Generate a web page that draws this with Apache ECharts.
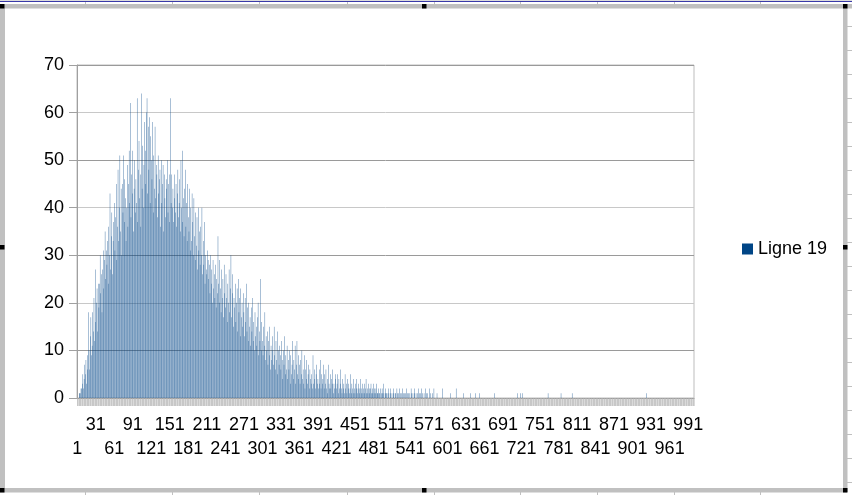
<!DOCTYPE html>
<html><head><meta charset="utf-8">
<style>html,body{margin:0;padding:0;background:#fff}#c{width:852px;height:495px}</style>
<script src="https://cdn.jsdelivr.net/npm/echarts@6/dist/echarts.min.js"></script>
</head><body><div id="c"></div>
<script>
const seriesName = 'Ligne 19';
const yTicks = [0,10,20,30,40,50,60,70];
// Values for categories 1..580
const valuesHead = [
0,0,0,1,1,1,2,2,3,5,
2,4,7,5,8,3,9,6,18,10,
6,13,17,9,11,18,14,21,12,27,
16,20,23,14,24,19,24,30,22,26,
18,27,31,23,29,35,25,31,28,33,
24,36,30,43,27,34,39,26,33,37,
41,31,38,45,29,36,48,33,40,51,
35,44,30,45,39,51,37,46,42,33,
40,49,36,45,52,41,62,38,47,43,
52,35,44,50,39,46,41,63,37,48,
54,42,47,36,64,44,53,40,49,58,
45,52,60,63,43,57,48,59,41,55,
50,46,58,39,51,44,57,42,49,47,
38,51,43,46,48,36,50,41,45,49,
35,47,42,38,46,44,50,39,45,37,
47,63,41,47,40,44,37,47,42,39,
45,36,43,48,38,41,46,35,50,40,
37,52,42,34,44,48,36,41,33,45,
38,35,44,31,40,33,43,37,30,42,
34,29,39,32,38,27,40,31,35,28,
36,30,40,26,33,28,37,24,30,27,
26,31,29,25,28,22,30,24,27,20,
29,23,26,21,28,19,25,22,34,24,
20,29,23,18,27,21,25,17,28,22,
19,26,21,16,24,20,27,18,23,30,
17,22,26,15,21,19,24,16,20,23,
14,25,18,21,13,23,17,20,15,22,
18,13,21,16,24,14,19,12,20,15,
17,11,19,14,21,12,16,10,18,13,
15,11,17,20,9,14,12,25,10,16,
12,9,15,11,18,8,13,10,14,7,
12,9,15,6,11,8,13,10,7,15,
9,6,12,8,14,5,10,7,11,9,
6,12,8,4,10,7,13,5,9,6,
11,4,8,6,10,3,9,5,7,12,
4,8,6,11,3,7,12,5,9,4,
7,3,8,5,10,4,6,3,9,2,
6,4,8,3,5,7,2,6,4,3,
5,2,9,3,6,4,2,5,7,3,
4,2,6,3,8,2,5,3,4,7,
2,5,3,6,2,4,1,7,3,2,
5,2,4,3,6,1,3,2,5,4,
2,3,5,1,4,2,3,6,2,1,
4,2,3,1,5,2,3,1,4,2,
3,1,2,5,1,3,2,1,4,2,
1,3,2,4,1,2,3,1,2,4,
2,1,3,1,2,3,1,2,4,1,
2,1,3,2,1,2,3,1,2,1,
3,1,2,1,2,3,1,1,2,1,
1,2,0,1,2,1,3,1,0,1,
2,1,1,0,2,1,0,1,2,0,
1,0,2,1,0,1,1,0,2,1,
0,1,2,0,1,0,1,2,0,1,
1,0,1,0,2,1,0,1,0,1,
0,2,1,0,1,0,1,2,0,1,
0,1,0,2,0,1,1,0,2,0,
1,0,1,0,2,0,1,0,1,0,
0,2,0,1,0,0,1,0,2,0
];
// Isolated small spikes after category 580; everything else there is zero
const tailCategories = [584,593,606,615,627,638,646,653,677,714,719,722,764,785,803,923];
const tailValues     = [1,2,1,2,1,1,1,1,1,1,1,1,1,1,1,1];
const categoryCount = 1000;

const categories = [], values = [];
for (let i = 1; i <= categoryCount; i++) {
  categories.push(String(i));
  const t = tailCategories.indexOf(i);
  values.push(i <= valuesHead.length ? valuesHead[i-1] : (t >= 0 ? tailValues[t] : 0));
}

const FONT = '"Liberation Sans", Arial, sans-serif';
const G = '#c0c0c0';
const rect = (x,y,w,h,fill) => ({type:'rect',silent:true,z:50,shape:{x,y,width:w,height:h},style:{fill}});
const frame = [
  rect(0,0,852,1,'#dcdcdc'), rect(0,1,852,1,'#3a3aa8'),
  rect(0,4,852,4.5,G), rect(0,4,5,488,G), rect(843,4,4.5,488,G), rect(0,488,847,4.5,G)
];
[[0,4],[422,4],[843,4],[0,245],[843,245],[0,488],[422,488],[843,488]].forEach(p=>frame.push(rect(p[0],p[1],4.5,4.5,'#000')));
[85,172,259,347,434,520,597,674,760].forEach(x=>{frame.push(rect(x,492,1,3,G));frame.push(rect(x,2,1,2,G));});
[26,50,74,98,122,146,170,194,218,242,266,290,314,338,362,386,410,434,458,482].forEach(y=>frame.push(rect(847,y,5,1,G)));

const gridColors = ['#9a9a9a','#9a9a9a','#c8c8c8','#9a9a9a','#c8c8c8','#9a9a9a','#c8c8c8','#9a9a9a'];
const labelStyle = {show:true,showMinLabel:true,showMaxLabel:true,color:'#000',fontFamily:FONT,fontSize:18,hideOverlap:false,verticalAlign:'top'};

echarts.init(document.getElementById('c'),null,{renderer:'canvas'}).setOption({
  animation:false,
  backgroundColor:'#fff',
  textStyle:{fontFamily:FONT},
  grid:{left:77,right:158,top:65,height:333,show:true,borderColor:'#bdbdbd',borderWidth:1,backgroundColor:'transparent'},
  legend:{show:true,data:[{name:seriesName,itemStyle:{color:'#004586',opacity:1}}],left:737,top:235,icon:'rect',itemWidth:11,itemHeight:11,itemGap:6,
    textStyle:{fontFamily:FONT,fontSize:18,color:'#000'},selectedMode:false},
  xAxis:[
    {type:'category',data:categories,boundaryGap:true,position:'bottom',
     axisLine:{show:true,lineStyle:{color:'#8a8a8a',width:1}},
     axisTick:{show:true,interval:0,length:8,lineStyle:{color:'#b4b4b4',width:0.5}},
     axisLabel:Object.assign({},labelStyle,{interval:(i)=>i%60===30,margin:18}),
     splitLine:{show:false}},
    {type:'category',data:categories,boundaryGap:true,position:'bottom',
     axisLine:{show:false},axisTick:{show:false},
     axisLabel:Object.assign({},labelStyle,{interval:(i)=>i%60===0,margin:42}),
     splitLine:{show:false}}
  ],
  yAxis:{type:'value',min:0,max:70,interval:10,data:yTicks,
    axisLine:{show:true,lineStyle:{color:'#a0a0a0'}},
    axisTick:{show:true,length:8,lineStyle:{color:'#a0a0a0'}},
    axisLabel:{margin:13,color:'#000',fontFamily:FONT,fontSize:18,padding:[2,0,0,0]},
    splitLine:{show:true,lineStyle:{color:gridColors,width:1}}},
  series:[{name:seriesName,type:'bar',data:values,xAxisIndex:0,barWidth:0.34,barMinWidth:0.34,barGap:'0%',
    itemStyle:{color:'#004586',opacity:1},z:3}],
  graphic:frame
});
</script></body></html>
